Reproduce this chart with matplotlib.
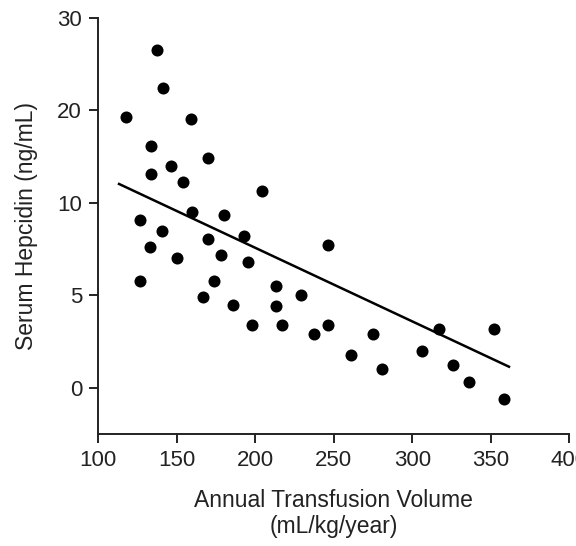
import numpy as np
import matplotlib.pyplot as plt

plt.rcParams['font.family'] = ['Liberation Sans', 'DejaVu Sans']

# Annual transfusion volume (mL/kg/year) and serum hepcidin (ng/mL)
volume = [117.8, 137.5, 141.4, 159.2, 133.7, 146.4, 133.7, 154.1, 170.0, 204.3,
          159.8, 180.2, 126.7, 140.7, 170.0, 192.9, 133.1, 178.3, 150.3, 195.4,
          246.3, 126.7, 173.8, 166.8, 185.9, 213.3, 229.2, 213.3, 198.0, 217.1,
          246.3, 237.4, 275.0, 261.0, 280.7, 317.0, 352.0, 306.1, 325.9, 336.1,
          358.3]
hepcidin = [19.3, 26.5, 22.4, 19.1, 16.2, 14.0, 13.1, 12.3, 14.9, 11.3,
            9.5, 9.35, 9.1, 8.5, 8.05, 8.2, 7.6, 7.2, 7.0, 6.8,
            7.7, 5.8, 5.8, 4.9, 4.5, 5.5, 5.0, 4.4, 3.4, 3.4,
            3.4, 2.9, 2.9, 1.8, 1.0, 3.2, 3.2, 2.0, 1.25, 0.3,
            -0.6]

# fitted trend line end points
fit_x = [113.4, 361.5]
fit_y = [12.05, 1.14]

y_ticks = [0, 5, 10, 20, 30]
x_ticks = [100, 150, 200, 250, 300, 350, 400]

# the axis puts its labels at equal steps, so map values onto tick positions
tick_pos = np.arange(len(y_ticks))


def forward(v):
    v = np.asarray(v, dtype=float)
    p = np.interp(v, y_ticks, tick_pos)
    p = np.where(v < 0, v / 5.0, p)
    p = np.where(v > 30, 4 + (v - 30) / 10.0, p)
    return p


def inverse(p):
    p = np.asarray(p, dtype=float)
    v = np.interp(p, tick_pos, y_ticks)
    v = np.where(p < 0, p * 5.0, v)
    v = np.where(p > 4, 30 + (p - 4) * 10.0, v)
    return v


fig = plt.figure(figsize=(5.76, 5.46), dpi=100)
ax = fig.add_axes([0.1701, 0.2051, 0.8186, 0.7619])

ax.scatter(volume, hepcidin, s=75, color='black', linewidths=0, zorder=3)
ax.plot(fit_x, fit_y, color='black', linewidth=1.8)

ax.set_yscale('function', functions=(forward, inverse))
ax.set_ylim(-2.5, 30)
ax.set_xlim(100, 400)
ax.set_yticks(y_ticks)
ax.set_yticklabels([str(t) for t in y_ticks])
ax.set_xticks(x_ticks)
ax.set_xticklabels([str(t) for t in x_ticks])
ax.minorticks_off()

for side in ['top', 'right']:
    ax.spines[side].set_visible(False)
for side in ['left', 'bottom']:
    ax.spines[side].set_linewidth(1.4)
    ax.spines[side].set_color('#222222')

ax.tick_params(axis='both', direction='out', length=6.5, width=1.4,
               color='#222222', labelsize=16, labelcolor='#222222', pad=5)

ax.set_xlabel('Annual Transfusion Volume\n(mL/kg/year)', fontsize=16.5,
              color='#222222', labelpad=13, linespacing=1.15)
ax.set_ylabel('Serum Hepcidin (ng/mL)', fontsize=16.5, color='#222222',
              labelpad=14)

fig.savefig('out.png', dpi=100)
